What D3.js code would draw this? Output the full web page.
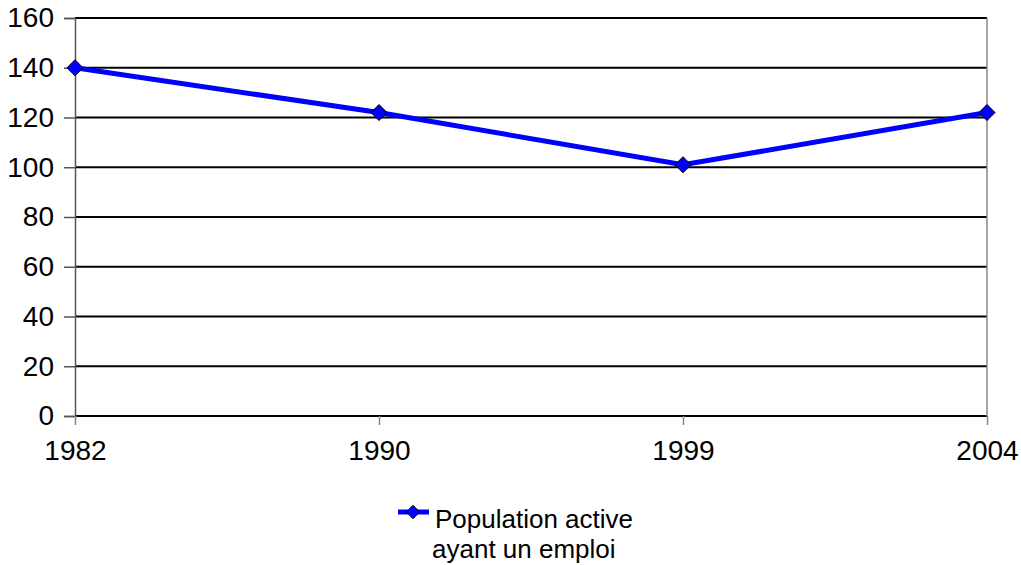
<!DOCTYPE html>
<html>
<head>
<meta charset="utf-8">
<script src="https://cdn.jsdelivr.net/npm/d3@7"></script>
<style>
  html, body { margin: 0; padding: 0; background: #fff; }
  svg { display: block; font-family: "Liberation Sans", Arial, sans-serif; }
</style>
</head>
<body>
<svg id="chart" width="1021" height="565"></svg>
<script>
// Years shown on the category axis
const years = ["1982", "1990", "1999", "2004"];
// Active population with a job
const employed = [140, 122, 101, 122];
// Value axis ticks
const yTicks = [0, 20, 40, 60, 80, 100, 120, 140, 160];
const seriesName = ["Population active", "ayant un emploi"];

const svg = d3.select("#chart");
const plotLeft = 75, plotRight = 987, plotTop = 18, plotBottom = 416;
const blue = "#0000ff";
const font = "Liberation Sans, Arial, sans-serif";

const x = d3.scalePoint().domain(years).range([plotLeft, plotRight]);
const y = d3.scaleLinear().domain([0, 160]).range([plotBottom, plotTop]);

// Horizontal gridlines
svg.append("g")
  .selectAll("line")
  .data(yTicks)
  .join("line")
  .attr("x1", plotLeft).attr("x2", plotRight)
  .attr("y1", d => y(d)).attr("y2", d => y(d))
  .attr("stroke", "#000").attr("stroke-width", 2);

// Right border of the plot area
svg.append("line")
  .attr("x1", plotRight).attr("x2", plotRight)
  .attr("y1", plotTop).attr("y2", plotBottom)
  .attr("stroke", "#888").attr("stroke-width", 1.5);

// Y axis
const yAxis = svg.append("g")
  .attr("transform", `translate(${plotLeft},0)`)
  .call(d3.axisLeft(y).tickValues(yTicks).tickSize(11).tickPadding(10).tickFormat(d3.format("d")));
yAxis.select(".domain").attr("stroke", "#555").attr("stroke-width", 1.5);
yAxis.selectAll(".tick line").attr("stroke", "#555").attr("stroke-width", 1.5);
yAxis.selectAll("text").attr("font-size", 28).attr("fill", "#000").attr("font-family", font);

// X axis
const xAxis = svg.append("g")
  .attr("transform", `translate(0,${plotBottom})`)
  .call(d3.axisBottom(x).tickSize(9).tickPadding(15));
xAxis.select(".domain").remove();
xAxis.selectAll(".tick line").attr("stroke", "#888").attr("stroke-width", 1.5);
xAxis.selectAll("text").attr("font-size", 28).attr("fill", "#000").attr("font-family", font);

// Series line
const data = years.map((yr, i) => ({ yr, v: employed[i] }));
svg.append("path")
  .datum(data)
  .attr("fill", "none")
  .attr("stroke", blue)
  .attr("stroke-width", 5)
  .attr("d", d3.line().x(d => x(d.yr)).y(d => y(d.v)));

// Diamond markers
const diamond = d3.symbol().type(d3.symbolDiamond2).size(165);
svg.append("g")
  .selectAll("path")
  .data(data)
  .join("path")
  .attr("transform", d => `translate(${x(d.yr)},${y(d.v)})`)
  .attr("d", diamond)
  .attr("fill", blue)
  .attr("stroke", "#000")
  .attr("stroke-width", 1);

// Legend
const lg = svg.append("g");
lg.append("line")
  .attr("x1", 398).attr("x2", 429).attr("y1", 512).attr("y2", 512)
  .attr("stroke", blue).attr("stroke-width", 5);
lg.append("path")
  .attr("transform", "translate(413,512)")
  .attr("d", d3.symbol().type(d3.symbolDiamond2).size(115))
  .attr("fill", blue).attr("stroke", "#000").attr("stroke-width", 1);
lg.append("text")
  .attr("x", 435).attr("y", 528)
  .attr("font-size", 26).attr("fill", "#000").attr("font-family", font)
  .text(seriesName[0]);
lg.append("text")
  .attr("x", 432).attr("y", 558)
  .attr("font-size", 26).attr("fill", "#000").attr("font-family", font)
  .text(seriesName[1]);
</script>
</body>
</html>
